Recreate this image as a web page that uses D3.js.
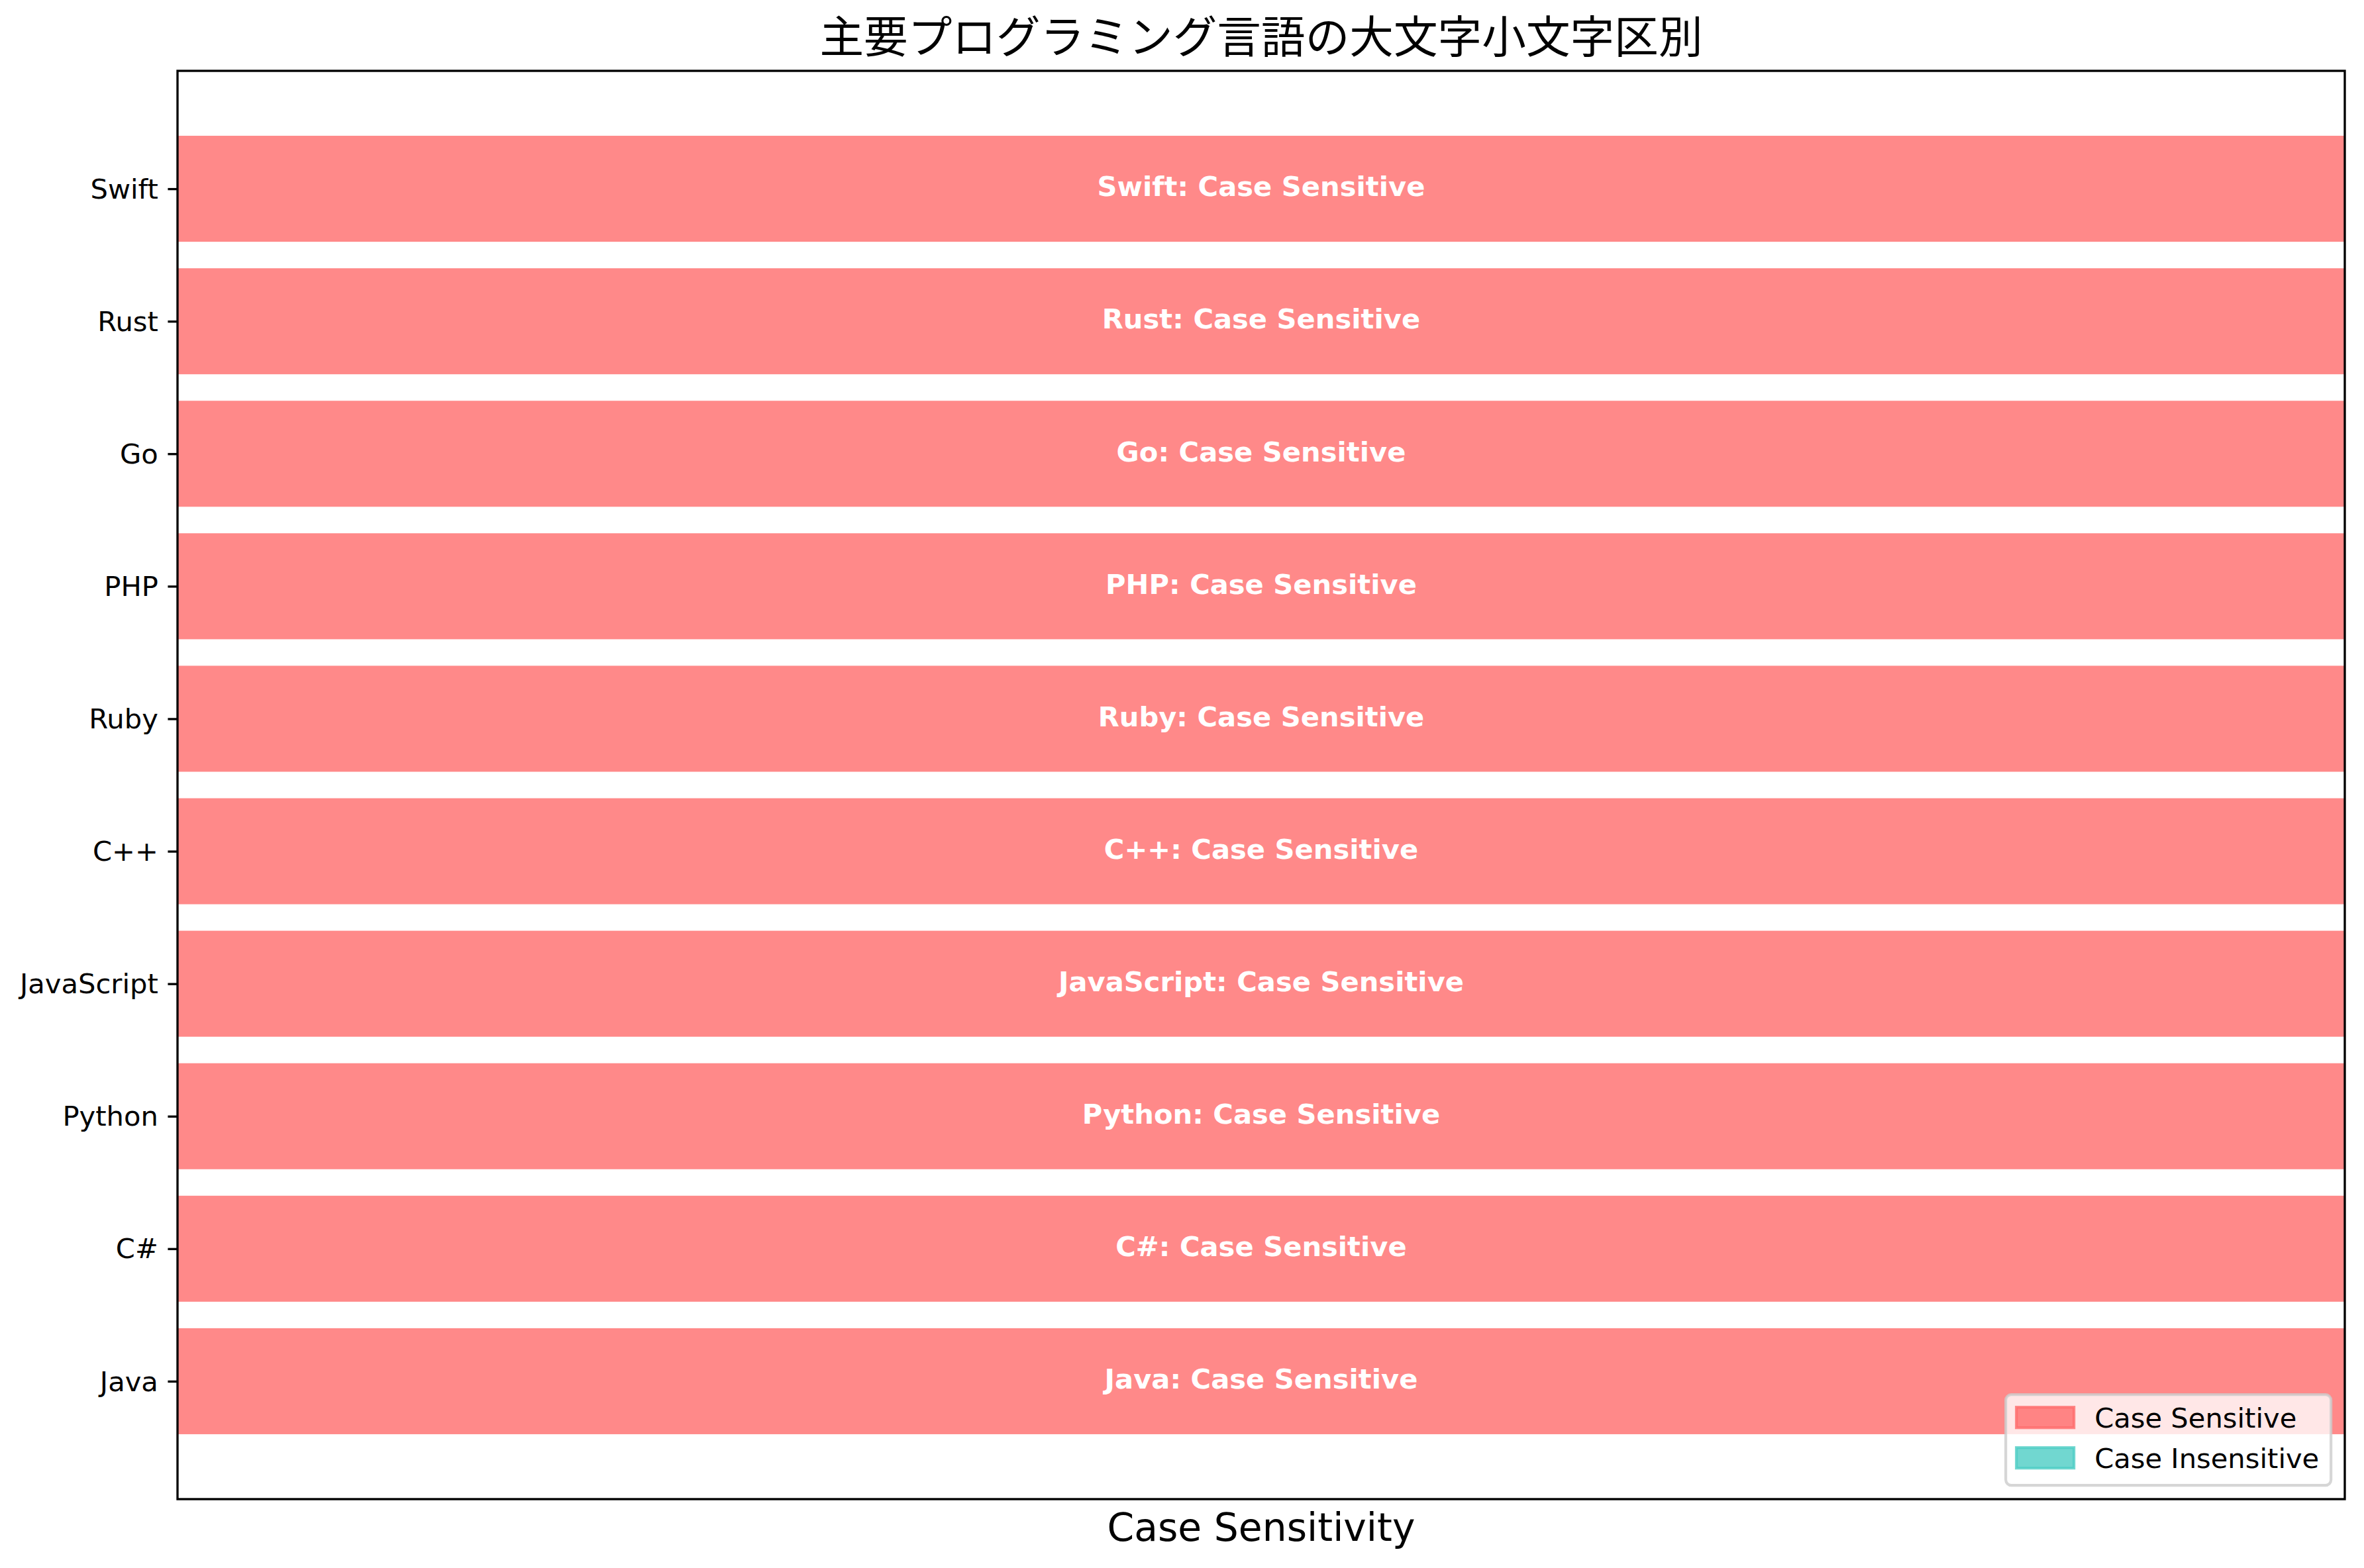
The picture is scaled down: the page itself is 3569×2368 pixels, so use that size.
<!DOCTYPE html>
<html>
<head>
<meta charset="utf-8">
<script src="https://cdn.jsdelivr.net/npm/d3@7"></script>
<style>
  body { margin: 0; background: #fff; }
  svg { display: block; }
</style>
</head>
<body>
<div id="chart"></div>
<script>
// data, bottom to top
const languages = ['Java', 'C#', 'Python', 'JavaScript', 'C++', 'Ruby', 'PHP', 'Go', 'Rust', 'Swift'];
const caseSensitive = [1, 1, 1, 1, 1, 1, 1, 1, 1, 1];
const legendLabels = ['Case Sensitive', 'Case Insensitive'];
const legendColors = ['#FF6B6B', '#4ECDC4'];
const titleText = '主要プログラミング言語の大文字小文字区別';
const xLabelText = 'Case Sensitivity';

const W = 3569, H = 2368;
const margin = { top: 107, right: 29, bottom: 104, left: 268 };
const pt = 300 / 72;

const svg = d3.select('#chart').append('svg')
    .attr('width', W)
    .attr('height', H);

const x = d3.scaleLinear()
    .domain([0, 1])
    .range([margin.left, W - margin.right]);

// bars from -0.4 to n-0.6, plus 5% margins like matplotlib
const barH = 0.8;
const lo = -barH / 2, hi = languages.length - 1 + barH / 2;
const pad = (hi - lo) * 0.05;
const y = d3.scaleLinear()
    .domain([lo - pad, hi + pad])
    .range([H - margin.bottom, margin.top]);

const rows = languages.map((name, i) => ({ name: name, i: i, sens: caseSensitive[i] }));

// bars
svg.append('g')
    .selectAll('rect')
    .data(rows)
    .enter()
    .append('rect')
    .attr('x', x(0))
    .attr('width', d => x(1) - x(0))
    .attr('y', d => y(d.i + barH / 2))
    .attr('height', d => y(d.i - barH / 2) - y(d.i + barH / 2))
    .style('fill', d => d.sens ? legendColors[0] : legendColors[1])
    .style('fill-opacity', 0.8);

// labels inside bars
svg.append('g')
    .selectAll('text')
    .data(rows)
    .enter()
    .append('text')
    .attr('x', x(0.5))
    .attr('y', d => y(d.i))
    .attr('dy', '0.27em')
    .attr('text-anchor', 'middle')
    .style('font-family', 'DejaVu Sans')
    .style('font-weight', 'bold')
    .style('font-size', (10 * pt) + 'px')
    .style('fill', '#fff')
    .text(d => d.name + ': ' + (d.sens ? 'Case Sensitive' : 'Case Insensitive'));

// y axis
const yAxis = d3.axisLeft(y)
    .tickValues(d3.range(languages.length))
    .tickFormat(i => languages[i])
    .tickSize(3.5 * pt)
    .tickPadding(3.5 * pt);

const yg = svg.append('g')
    .attr('transform', 'translate(' + margin.left + ',0)')
    .call(yAxis);
yg.select('.domain').remove();
yg.selectAll('.tick line').attr('stroke', '#000').attr('stroke-width', 0.8 * pt);
yg.selectAll('.tick text')
    .attr('dy', '0.34em')
    .style('font-family', 'DejaVu Sans')
    .style('font-size', (10 * pt) + 'px')
    .style('fill', '#000');

// frame
svg.append('rect')
    .attr('x', margin.left)
    .attr('y', margin.top)
    .attr('width', W - margin.left - margin.right)
    .attr('height', H - margin.top - margin.bottom)
    .style('fill', 'none')
    .style('stroke', '#000')
    .style('stroke-width', 0.8 * pt);

// title
svg.append('text')
    .attr('x', (x(0) + x(1)) / 2)
    .attr('y', margin.top - 27)
    .attr('text-anchor', 'middle')
    .style('font-family', '"Noto Sans CJK JP"')
    .style('font-size', (16 * pt) + 'px')
    .style('fill', '#000')
    .text(titleText);

// x label
svg.append('text')
    .attr('x', (x(0) + x(1)) / 2)
    .attr('y', H - margin.bottom + 63)
    .attr('text-anchor', 'middle')
    .style('font-family', 'DejaVu Sans')
    .style('font-size', (14 * pt) + 'px')
    .style('fill', '#000')
    .text(xLabelText);

// legend, lower right
const fs = 10 * pt;
const legW = 491, legH = 137;
const legX = x(1) - 0.5 * fs - legW;
const legY = y(lo - pad) - 0.5 * fs - legH;
const leg = svg.append('g').attr('transform', 'translate(' + legX + ',' + legY + ')');

leg.append('rect')
    .attr('width', legW)
    .attr('height', legH)
    .attr('rx', 0.2 * fs)
    .style('fill', '#fff')
    .style('fill-opacity', 0.8)
    .style('stroke', '#ccc')
    .style('stroke-opacity', 0.8)
    .style('stroke-width', 1 * pt);

legendLabels.forEach((lab, i) => {
    const cy = 34.5 + i * 61;
    leg.append('rect')
        .attr('x', 16)
        .attr('y', cy - 15.5)
        .attr('width', 87)
        .attr('height', 31)
        .style('fill', legendColors[i])
        .style('fill-opacity', 0.8)
        .style('stroke', legendColors[i])
        .style('stroke-opacity', 0.8)
        .style('stroke-width', 1 * pt);
    leg.append('text')
        .attr('x', 134)
        .attr('y', cy + 15.5)
        .style('font-family', 'DejaVu Sans')
        .style('font-size', fs + 'px')
        .style('fill', '#000')
        .text(lab);
});
</script>
</body>
</html>
